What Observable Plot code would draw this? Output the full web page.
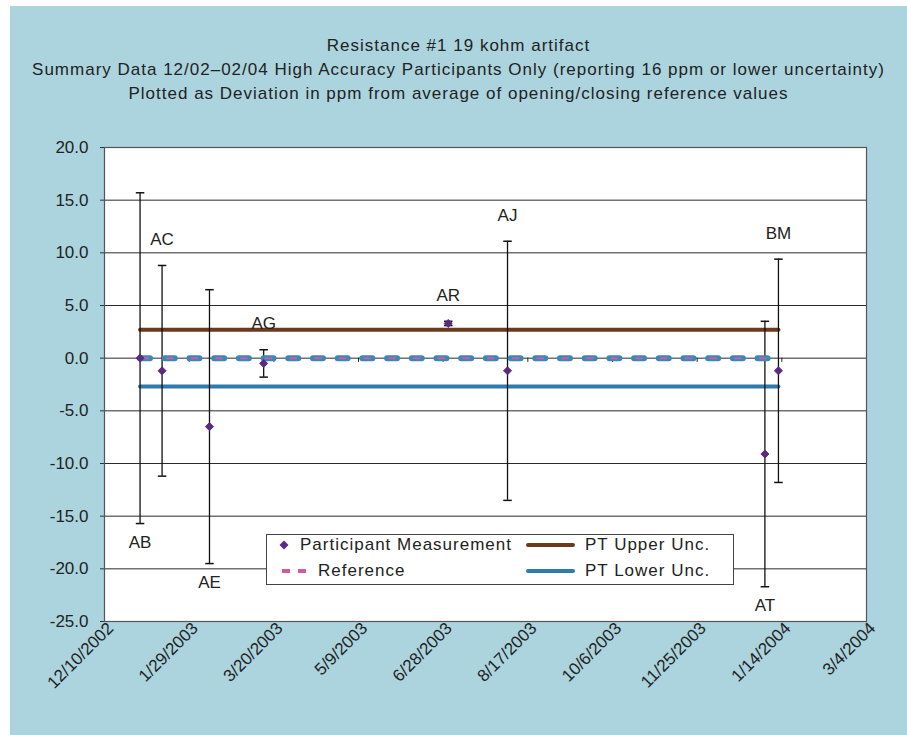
<!DOCTYPE html>
<html><head><meta charset="utf-8">
<script src="https://cdn.jsdelivr.net/npm/d3@7"></script>
<script src="https://cdn.jsdelivr.net/npm/@observablehq/plot@0.6"></script>
<style>
body{margin:0;background:#fff;width:907px;height:735px;overflow:hidden;}
#bg{position:absolute;left:10px;top:6px;width:897px;height:729px;background:#acd4de;}
#title{position:absolute;left:10px;top:34px;width:897px;text-align:center;font-family:"Liberation Sans",Arial,sans-serif;font-size:17px;letter-spacing:1px;line-height:24px;color:#222;}
#chart{position:absolute;left:0;top:120px;}
#legend{position:absolute;left:266px;top:534px;width:466px;height:49px;background:#fff;border:1px solid #444;font-family:"Liberation Sans",Arial,sans-serif;font-size:17px;letter-spacing:1px;color:#222;}
#legend .t{position:absolute;line-height:20px;white-space:nowrap;}
#legend svg{position:absolute;left:0;top:0;}
</style></head>
<body>
<div id="bg"></div>
<div id="title"></div>
<div id="chart"></div>
<div id="legend"></div>
<script>
// ---- data ----
const titleLines = [
  "Resistance #1 19 kohm artifact",
  "Summary Data 12/02–02/04 High Accuracy Participants Only (reporting 16 ppm or lower uncertainty)",
  "Plotted as Deviation in ppm from average of opening/closing reference values"
];
const participants = ["AB","AC","AE","AG","AR","AJ","AT","BM"];
const dates = ["2002-12-31","2003-01-13","2003-02-10","2003-03-14","2003-07-01","2003-08-05","2004-01-04","2004-01-12"];
const deviations = [0.0,-1.2,-6.5,-0.5,3.3,-1.2,-9.1,-1.2];
const uncertainties = [15.7,10.0,13.0,1.3,0.2,12.3,12.6,10.6];
const labelSides = ["below","above","below","above","above","above","below","above"];
const referenceValue = 0;
const ptUpperUnc = 2.7;
const ptLowerUnc = -2.7;
const xTickLabels = ["12/10/2002","1/29/2003","3/20/2003","5/9/2003","6/28/2003","8/17/2003","10/6/2003","11/25/2003","1/14/2004","3/4/2004"];
const yTickValues = [-25,-20,-15,-10,-5,0,5,10,15,20];
const legendLabels = ["Participant Measurement","Reference","PT Upper Unc.","PT Lower Unc."];

// ---- colours ----
const cPoint = "#5a2a84", cUpper = "#6b3a1c", cLower = "#2f7bab", cRefBlue = "#3a88b8", cRefPink = "#cc5e9f";

// ---- title ----
document.getElementById("title").innerHTML = titleLines.map(t => `<div>${t}</div>`).join("");

// ---- build tables ----
const parseLabel = s => { const [m, d, y] = s.split("/").map(Number); return new Date(Date.UTC(y, m - 1, d)); };
const fmtLabel = d => `${d.getUTCMonth() + 1}/${d.getUTCDate()}/${d.getUTCFullYear()}`;
const xTicks = xTickLabels.map(parseLabel);
const rows = participants.map((p, i) => ({
  p, date: new Date(dates[i]), v: deviations[i], u: uncertainties[i], side: labelSides[i]
}));
const first = rows[0].date, last = rows[rows.length - 1].date;
const refLine = [{date: first, v: referenceValue}, {date: last, v: referenceValue}];
const upLine = [{date: first, v: ptUpperUnc}, {date: last, v: ptUpperUnc}];
const loLine = [{date: first, v: ptLowerUnc}, {date: last, v: ptLowerUnc}];

const capSymbol = {draw(ctx, size) { const w = Math.sqrt(size) * 0.6; ctx.moveTo(-w, 0); ctx.lineTo(w, 0); }};

const chart = Plot.plot({
  width: 907, height: 615,
  marginLeft: 104, marginRight: 41, marginTop: 27, marginBottom: 114,
  style: {background: "transparent", fontFamily: "'Liberation Sans', Arial, sans-serif", color: "#222", overflow: "visible"},
  x: {type: "utc", domain: [xTicks[0], xTicks[xTicks.length - 1]]},
  y: {domain: [yTickValues[0], yTickValues[yTickValues.length - 1]]},
  marks: [
    Plot.frame({fill: "white", stroke: "none"}),
    Plot.gridY(yTickValues, {stroke: "#2a2a2a", strokeOpacity: 1, strokeWidth: 1}),
    Plot.ruleX(xTicks, {y1: referenceValue, y2: referenceValue - 0.4, stroke: "#222"}),
    Plot.frame({stroke: "#555", strokeWidth: 1.2}),
    Plot.line(upLine, {x: "date", y: "v", stroke: cUpper, strokeWidth: 4}),
    Plot.line(loLine, {x: "date", y: "v", stroke: cLower, strokeWidth: 4}),
    Plot.ruleX(rows, {x: "date", y1: d => d.v - d.u, y2: d => d.v + d.u, stroke: "#111", strokeWidth: 1.3}),
    Plot.dot(rows, {x: "date", y: d => d.v + d.u, symbol: capSymbol, r: 4, fill: "none", stroke: "#111", strokeWidth: 1.5}),
    Plot.dot(rows, {x: "date", y: d => d.v - d.u, symbol: capSymbol, r: 4, fill: "none", stroke: "#111", strokeWidth: 1.5}),
    Plot.line(refLine, {x: "date", y: "v", stroke: cRefBlue, strokeWidth: 6, strokeDasharray: "10,14.7"}),
    Plot.line(refLine, {x: "date", y: "v", stroke: cRefPink, strokeWidth: 2, strokeDasharray: "6,18.7", strokeDashoffset: -2}),
    Plot.dot(rows, {x: "date", y: "v", symbol: "diamond2", r: 3.6, fill: cPoint, stroke: cPoint, strokeWidth: 1}),
    Plot.text(rows.filter(d => d.side === "above"), {x: "date", y: d => d.v + d.u, text: "p", dy: -26, fontSize: 17, fill: "#222", style: {letterSpacing: "0.5px"}}),
    Plot.text(rows.filter(d => d.side === "below"), {x: "date", y: d => d.v - d.u, text: "p", dy: 19, fontSize: 17, fill: "#222"}),
    Plot.axisY(yTickValues, {tickFormat: d => d.toFixed(1), tickSize: 4, tickPadding: 12, fontSize: 17, stroke: "#333", label: null}),
    Plot.axisX(xTicks, {tickFormat: fmtLabel, tickSize: 0, tickRotate: -45, tickPadding: 4, dx: 6, fontSize: 17, label: null})
  ]
});
document.getElementById("chart").appendChild(chart);

// ---- legend ----
const lg = document.getElementById("legend");
lg.innerHTML = `
<svg width="466" height="49">
  <path d="M17,5.5 L21.5,10 L17,14.5 L12.5,10 Z" fill="${cPoint}"/>
  <line x1="15" y1="36" x2="40" y2="36" stroke="${cRefPink}" stroke-width="4" stroke-dasharray="8,8"/>
  <line x1="261" y1="10" x2="306" y2="10" stroke="${cUpper}" stroke-width="4" stroke-linecap="round"/>
  <line x1="261" y1="36" x2="306" y2="36" stroke="${cLower}" stroke-width="4" stroke-linecap="round"/>
</svg>
<div class="t" style="left:33px;top:0px">${legendLabels[0]}</div>
<div class="t" style="left:51px;top:26px">${legendLabels[1]}</div>
<div class="t" style="left:318px;top:0px">${legendLabels[2]}</div>
<div class="t" style="left:318px;top:26px">${legendLabels[3]}</div>`;
</script>
</body></html>
